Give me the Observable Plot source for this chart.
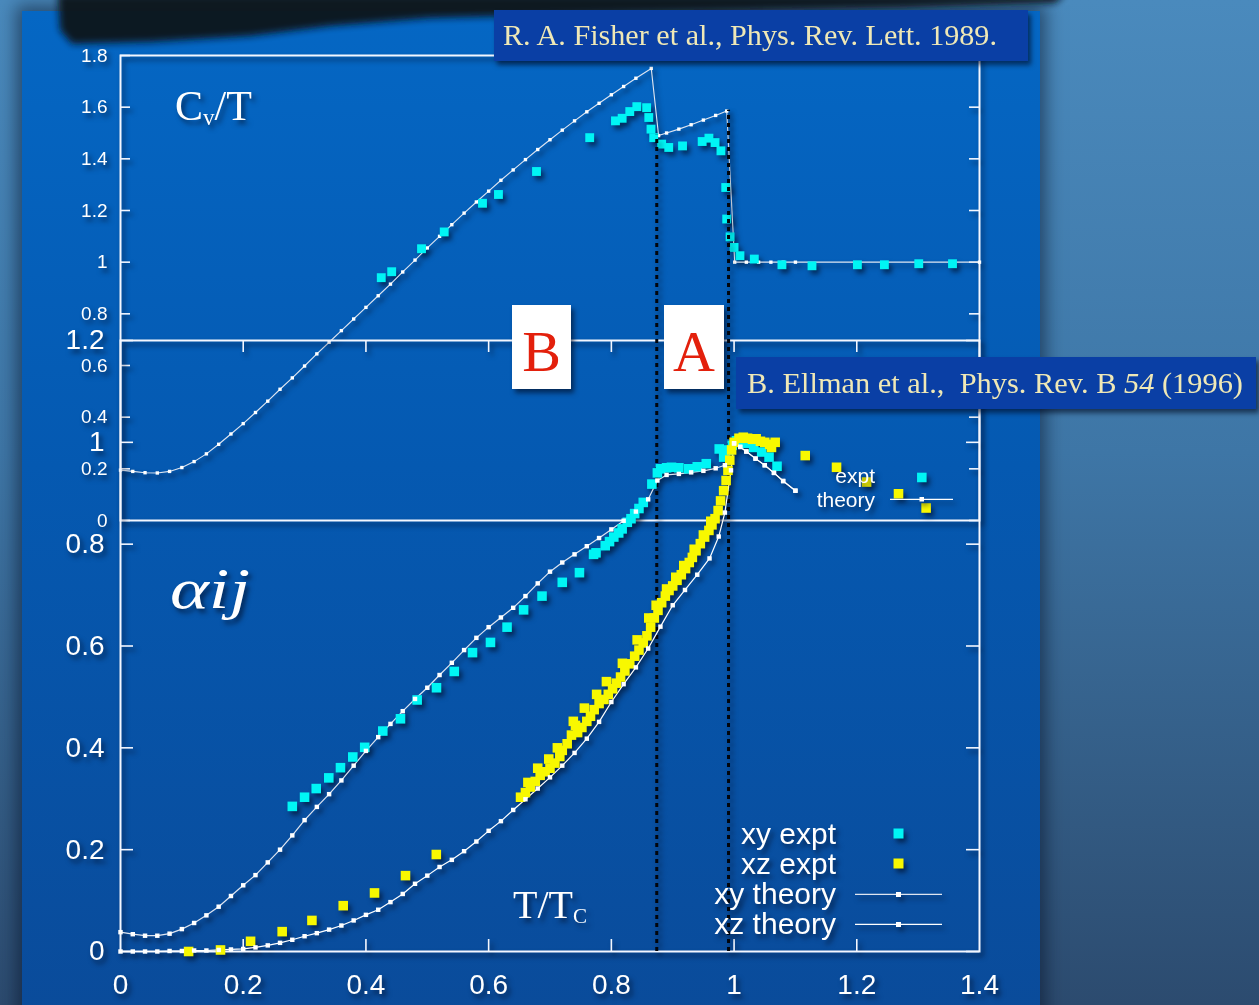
<!DOCTYPE html>
<html><head><meta charset="utf-8">
<script src="https://cdn.jsdelivr.net/npm/d3@7"></script>
<script src="https://cdn.jsdelivr.net/npm/@observablehq/plot@0.6"></script>
<style>
html,body{margin:0;padding:0;}
body{width:1259px;height:1005px;overflow:hidden;background:linear-gradient(to bottom,#4a8abd 0%,#3e76a6 45%,#2c4b6f 100%);}
#page{position:relative;width:1259px;height:1005px;overflow:hidden;}
#panel{position:absolute;left:22px;top:11px;width:1018px;height:1010px;background:linear-gradient(to bottom,#0567c4 0%,#0559b1 45%,#0a4b9a 100%);box-shadow:0 0 16px 6px rgba(5,15,35,0.5);}
.layer{position:absolute;left:0;top:0;}
.layer svg, svg.layer{filter:drop-shadow(3px 4px 2.5px rgba(0,8,30,0.6));}
</style></head>
<body><div id="page">
<div id="panel"></div>
<svg id="smudge" width="1259" height="70" style="position:absolute;left:0;top:0">
 <defs><filter id="bl" x="-10%" y="-50%" width="120%" height="200%"><feGaussianBlur stdDeviation="3.5"/></filter></defs>
 <path d="M58,-6 L1065,-6 L1055,3 L900,8 L640,13 L430,18 L330,26 L250,36 L150,42 L72,44 L60,30 Z" fill="#09121d" filter="url(#bl)" opacity="0.96"/>
</svg>
<div id="cv" class="layer"></div>
<div id="alpha" class="layer"></div>
<svg id="deco" class="layer" width="1259" height="1005" font-family="Liberation Serif">
 <rect x="494" y="10" width="534" height="51" fill="#0a3fa5"/>
 <text x="503" y="45" font-size="29" fill="#efe8b6" textLength="494" lengthAdjust="spacingAndGlyphs">R. A. Fisher et al., Phys. Rev. Lett. 1989.</text>
 <rect x="736" y="357" width="520" height="52" fill="#0a3fa5"/>
 <text x="747" y="393" font-size="29" fill="#efe8b6" textLength="496" lengthAdjust="spacingAndGlyphs" style="white-space:pre">B. Ellman et al.,  Phys. Rev. B <tspan font-style="italic">54</tspan> (1996)</text>
 <rect x="512" y="305" width="59" height="84" fill="#ffffff"/>
 <text x="541.5" y="371" font-size="58" fill="#e3200c" text-anchor="middle">B</text>
 <rect x="664" y="305" width="60" height="84" fill="#ffffff"/>
 <text x="694" y="371" font-size="58" fill="#e3200c" text-anchor="middle">A</text>
 <text x="175" y="120" font-size="42" fill="#ffffff">C<tspan font-size="23" dy="5">v</tspan><tspan dy="-5">/T</tspan></text>
 <text x="170" y="608" font-size="58" font-style="italic" fill="#ffffff" textLength="80" lengthAdjust="spacingAndGlyphs">αij</text>
 <text x="513" y="918" font-size="40" fill="#ffffff">T/T<tspan font-size="21" dy="5">C</tspan></text>
 <g font-family="Liberation Sans" fill="#ffffff" text-anchor="end">
  <text x="836" y="843.5" font-size="30">xy expt</text>
  <text x="836" y="873.5" font-size="30">xz expt</text>
  <text x="836" y="903.5" font-size="30">xy theory</text>
  <text x="836" y="933.5" font-size="30">xz theory</text>
  <text x="875" y="483" font-size="21">expt</text>
  <text x="875" y="507" font-size="21">theory</text>
 </g>
 <rect x="893.5" y="828.5" width="10" height="10" fill="#00f5f5"/>
 <rect x="893.5" y="858.5" width="10" height="10" fill="#f8f800"/>
 <line x1="855" x2="942" y1="894.3" y2="894.3" stroke="#dfe5f0" stroke-width="1.2"/>
 <rect x="896" y="892" width="5" height="5" fill="#ffffff"/>
 <line x1="855" x2="942" y1="924.3" y2="924.3" stroke="#ffffff" stroke-width="1.2"/>
 <rect x="896" y="922" width="5" height="5" fill="#ffffff"/>
 <line x1="890" x2="953" y1="499.3" y2="499.3" stroke="#ffffff" stroke-width="1.2"/>
 <rect x="919.5" y="497" width="4.5" height="4.5" fill="#ffffff"/>
</svg>
</div>
<script>
// ---------- axis ticks ----------
const X_TICKS = [0, 0.2, 0.4, 0.6, 0.8, 1, 1.2, 1.4];
const X_INNER_TICKS = [0.2, 0.4, 0.6, 0.8, 1, 1.2];
const CV_TICKS = [0, 0.2, 0.4, 0.6, 0.8, 1, 1.2, 1.4, 1.6, 1.8];
const ALPHA_TICKS = [0, 0.2, 0.4, 0.6, 0.8, 1, 1.2];

// ---------- specific heat Cv/T (Fisher et al. 1989) ----------
const CV_THEORY_T = [0,0.02,0.04,0.06,0.08,0.10,0.12,0.14,0.16,0.18,0.20,0.22,0.24,0.26,0.28,0.30,0.32,0.34,0.36,0.38,0.40,0.42,0.44,0.46,0.48,0.50,0.52,0.54,0.56,0.58,0.60,0.62,0.64,0.66,0.68,0.70,0.72,0.74,0.76,0.78,0.80,0.82,0.84,0.865,0.877,0.89,0.91,0.93,0.95,0.97,0.988,1.001,1.02,1.04,1.06,1.08,1.10,1.40];
const CV_THEORY_V = [0.195,0.190,0.185,0.184,0.190,0.205,0.228,0.258,0.295,0.335,0.375,0.418,0.462,0.508,0.552,0.598,0.645,0.690,0.735,0.780,0.825,0.870,0.915,0.962,1.008,1.055,1.100,1.145,1.190,1.233,1.275,1.317,1.357,1.397,1.436,1.474,1.511,1.547,1.582,1.615,1.648,1.680,1.712,1.750,1.490,1.500,1.515,1.532,1.550,1.568,1.585,1.000,1.000,1.000,1.000,1.000,1.000,1.000];
const CV_EXPT_T = [0.425,0.442,0.4906,0.5276,0.590,0.616,0.678,0.7647,0.8067,0.8176,0.830,0.8415,0.8575,0.861,0.8646,0.869,0.882,0.8935,0.916,0.948,0.959,0.969,0.9786,0.9864,0.988,0.9935,1.0,1.0096,1.033,1.078,1.127,1.201,1.245,1.301,1.356];
const CV_EXPT_V = [0.94,0.963,1.052,1.117,1.228,1.262,1.351,1.482,1.547,1.557,1.583,1.602,1.598,1.56,1.515,1.482,1.457,1.444,1.45,1.467,1.48,1.463,1.431,1.289,1.167,1.098,1.057,1.025,1.012,0.99,0.986,0.99,0.99,0.994,0.994];

// ---------- thermal expansion alpha_ij (Ellman et al. 1996) ----------
const XY_THEORY_T = [0,0.02,0.04,0.06,0.08,0.10,0.12,0.14,0.16,0.18,0.20,0.22,0.24,0.26,0.28,0.30,0.32,0.34,0.36,0.38,0.40,0.42,0.44,0.46,0.48,0.50,0.52,0.54,0.56,0.58,0.60,0.62,0.64,0.66,0.68,0.70,0.72,0.74,0.76,0.78,0.80,0.82,0.84,0.86,0.875,0.89,0.91,0.93,0.95,0.97,0.985,1.00,1.01,1.02,1.035,1.05,1.065,1.08,1.10];
const XY_THEORY_A = [0.038,0.034,0.031,0.031,0.035,0.044,0.056,0.071,0.088,0.109,0.130,0.150,0.175,0.200,0.228,0.258,0.284,0.309,0.336,0.365,0.394,0.421,0.447,0.472,0.496,0.518,0.543,0.567,0.592,0.616,0.637,0.656,0.675,0.698,0.723,0.746,0.764,0.780,0.796,0.812,0.829,0.846,0.864,0.888,0.925,0.936,0.938,0.941,0.944,0.949,0.955,0.998,0.991,0.982,0.968,0.955,0.940,0.924,0.905];
const XZ_THEORY_T = [0,0.02,0.04,0.06,0.08,0.10,0.12,0.14,0.16,0.18,0.20,0.22,0.24,0.26,0.28,0.30,0.32,0.34,0.36,0.38,0.40,0.42,0.44,0.46,0.48,0.50,0.52,0.54,0.56,0.58,0.60,0.62,0.64,0.66,0.68,0.70,0.72,0.74,0.76,0.78,0.80,0.82,0.84,0.86,0.88,0.90,0.92,0.94,0.96,0.975,0.985,0.995,1.00,1.01,1.02,1.035,1.05,1.065,1.08,1.10];
const XZ_THEORY_A = [0,0,0,0,0.001,0.001,0.002,0.002,0.003,0.004,0.005,0.008,0.012,0.017,0.023,0.030,0.036,0.043,0.051,0.061,0.072,0.082,0.097,0.113,0.133,0.149,0.166,0.180,0.197,0.216,0.237,0.256,0.278,0.299,0.320,0.342,0.365,0.390,0.418,0.451,0.490,0.525,0.558,0.595,0.638,0.680,0.710,0.740,0.772,0.815,0.862,0.945,0.998,0.991,0.982,0.968,0.955,0.940,0.924,0.905];
const XY_EXPT_T = [0.280,0.300,0.319,0.3395,0.3585,0.3786,0.398,0.4275,0.4563,0.4835,0.515,0.544,0.5737,0.603,0.630,0.657,0.687,0.720,0.748,0.771,0.775,0.790,0.797,0.804,0.812,0.8176,0.826,0.832,0.838,0.845,0.852,0.866,0.875,0.880,0.890,0.898,0.910,0.926,0.940,0.9547,0.9758,0.983,0.990,0.997,1.004,1.011,1.020,1.032,1.045,1.057,1.07,1.306];
const XY_EXPT_A = [0.285,0.303,0.320,0.341,0.361,0.382,0.401,0.433,0.457,0.494,0.518,0.550,0.587,0.607,0.637,0.671,0.698,0.725,0.744,0.780,0.783,0.797,0.805,0.814,0.822,0.830,0.843,0.850,0.860,0.870,0.882,0.918,0.940,0.948,0.950,0.951,0.950,0.948,0.952,0.958,0.987,0.971,0.985,0.994,1.003,1.004,0.998,0.990,0.981,0.971,0.953,0.931];
const XZ_EXPT_T = [0.111,0.163,0.212,0.2635,0.312,0.363,0.414,0.4645,0.5147,0.652,0.660,0.668,0.676,0.684,0.692,0.700,0.708,0.716,0.720,0.728,0.735,0.7415,0.745,0.752,0.760,0.766,0.772,0.780,0.788,0.795,0.802,0.808,0.815,0.822,0.830,0.838,0.845,0.852,0.858,0.864,0.870,0.876,0.882,0.888,0.894,0.900,0.907,0.914,0.921,0.927,0.932,0.938,0.945,0.952,0.959,0.964,0.969,0.974,0.978,0.983,0.987,0.990,0.993,0.996,1.000,1.008,1.015,1.022,1.030,1.036,1.043,1.050,1.058,1.061,1.067,1.116,1.167,1.216,1.268,1.313,0.664,0.680,0.698,0.712,0.738,0.756,0.776,0.792,0.818,0.842,0.861,0.873,0.890,0.905,0.918,0.935,0.950,0.962];
const XZ_EXPT_A = [0.0,0.003,0.020,0.039,0.061,0.090,0.115,0.149,0.1905,0.303,0.312,0.323,0.334,0.346,0.353,0.360,0.370,0.383,0.395,0.408,0.425,0.444,0.430,0.440,0.452,0.462,0.475,0.487,0.495,0.505,0.516,0.527,0.539,0.551,0.565,0.580,0.592,0.606,0.620,0.637,0.655,0.670,0.685,0.698,0.709,0.718,0.729,0.740,0.752,0.764,0.774,0.787,0.801,0.814,0.827,0.838,0.850,0.866,0.885,0.905,0.925,0.945,0.965,0.985,1.000,1.008,1.010,1.008,1.006,1.007,1.002,1.000,0.996,0.990,1.000,0.974,0.951,0.922,0.899,0.871,0.332,0.360,0.378,0.400,0.452,0.478,0.505,0.530,0.566,0.612,0.655,0.680,0.712,0.735,0.758,0.790,0.818,0.845];

// ---------- region dividers (dotted) ----------
const DIVIDER_T = [0.874, 0.991];
const DIVIDER_TOP_A = [1.603, 1.652];

const zip = (ts, vs) => ts.map((t, i) => ({t, v: vs[i]}));
const cvTheory = zip(CV_THEORY_T, CV_THEORY_V);
const cvExpt = zip(CV_EXPT_T, CV_EXPT_V);
const xyTheory = zip(XY_THEORY_T, XY_THEORY_A);
const xzTheory = zip(XZ_THEORY_T, XZ_THEORY_A);
const xyExpt = zip(XY_EXPT_T, XY_EXPT_A);
const xzExpt = zip(XZ_EXPT_T, XZ_EXPT_A);
const dividers = zip(DIVIDER_T, DIVIDER_TOP_A);

const W = 1259, ML = 120, MR = 280, PW = W - ML - MR;
const fmt = d => String(+d.toFixed(1));
const WHITE = "#f4f7ff", CYAN = "#00f5f5", YELLOW = "#f8f800", LINE = "#dfe5f0";
const baseStyle = {background: "transparent", color: "white", fontFamily: "Liberation Sans", overflow: "visible"};

// Cv/T panel
const cvH = 560, cvTop = 55, cvBottom = 40;
const cvPlot = Plot.plot({
  width: W, height: cvH, marginLeft: ML, marginRight: MR, marginTop: cvTop, marginBottom: cvBottom,
  x: {domain: [0, 1.4], axis: null, label: null},
  y: {domain: [0, 1.8], label: null},
  style: baseStyle,
  marks: [
    Plot.frame({stroke: WHITE, strokeWidth: 2}),
    Plot.axisY(CV_TICKS, {tickSize: 0, tickPadding: 13, fontSize: 19, tickFormat: fmt, label: null}),
    Plot.tickY(CV_TICKS, {y: d => d, insetRight: PW - 10, stroke: WHITE, strokeWidth: 1.6}),
    Plot.tickY(CV_TICKS, {y: d => d, insetLeft: PW - 10, stroke: WHITE, strokeWidth: 1.6}),
    Plot.line(cvTheory, {x: "t", y: "v", stroke: LINE, strokeWidth: 1.1}),
    Plot.dot(cvTheory, {x: "t", y: "v", symbol: "square", r: 1.9, fill: "white"}),
    Plot.dot(cvExpt, {x: "t", y: "v", symbol: "square", r: 5, fill: CYAN})
  ]
});
document.getElementById("cv").append(cvPlot);

// alpha_ij panel
const aH = 1005, aTop = 340, aBottom = 54, aPH = aH - aTop - aBottom;
const alphaPlot = Plot.plot({
  width: W, height: aH, marginLeft: ML, marginRight: MR, marginTop: aTop, marginBottom: aBottom,
  x: {domain: [0, 1.4], label: null},
  y: {domain: [0, 1.2], label: null},
  style: baseStyle,
  marks: [
    Plot.frame({stroke: WHITE, strokeWidth: 2}),
    Plot.axisX(X_TICKS, {tickSize: 0, tickPadding: 23, fontSize: 28, tickFormat: fmt, label: null}),
    Plot.axisY(ALPHA_TICKS, {tickSize: 0, tickPadding: 16, fontSize: 28, tickFormat: fmt, label: null}),
    Plot.tickX(X_INNER_TICKS, {x: d => d, insetTop: aPH - 12, stroke: WHITE, strokeWidth: 1.6}),
    Plot.tickX(X_INNER_TICKS, {x: d => d, insetBottom: aPH - 12, stroke: WHITE, strokeWidth: 1.6}),
    Plot.tickY(ALPHA_TICKS, {y: d => d, insetRight: PW - 13, stroke: WHITE, strokeWidth: 1.6}),
    Plot.tickY(ALPHA_TICKS, {y: d => d, insetLeft: PW - 13, stroke: WHITE, strokeWidth: 1.6}),
    Plot.ruleX(dividers, {x: "t", y1: 0, y2: "v", stroke: "#02050b", strokeWidth: 3, strokeDasharray: "4 4"}),
    Plot.line(xyTheory, {x: "t", y: "v", stroke: LINE, strokeWidth: 1.2}),
    Plot.line(xzTheory, {x: "t", y: "v", stroke: "#ffffff", strokeWidth: 1.2}),
    Plot.dot(xyExpt, {x: "t", y: "v", symbol: "square", r: 5.4, fill: CYAN}),
    Plot.dot(xzExpt, {x: "t", y: "v", symbol: "square", r: 5.4, fill: YELLOW}),
    Plot.dot(xyTheory, {x: "t", y: "v", symbol: "square", r: 2.5, fill: "white"}),
    Plot.dot(xzTheory, {x: "t", y: "v", symbol: "square", r: 2.5, fill: "white"})
  ]
});
document.getElementById("alpha").append(alphaPlot);
</script>
</body></html>
